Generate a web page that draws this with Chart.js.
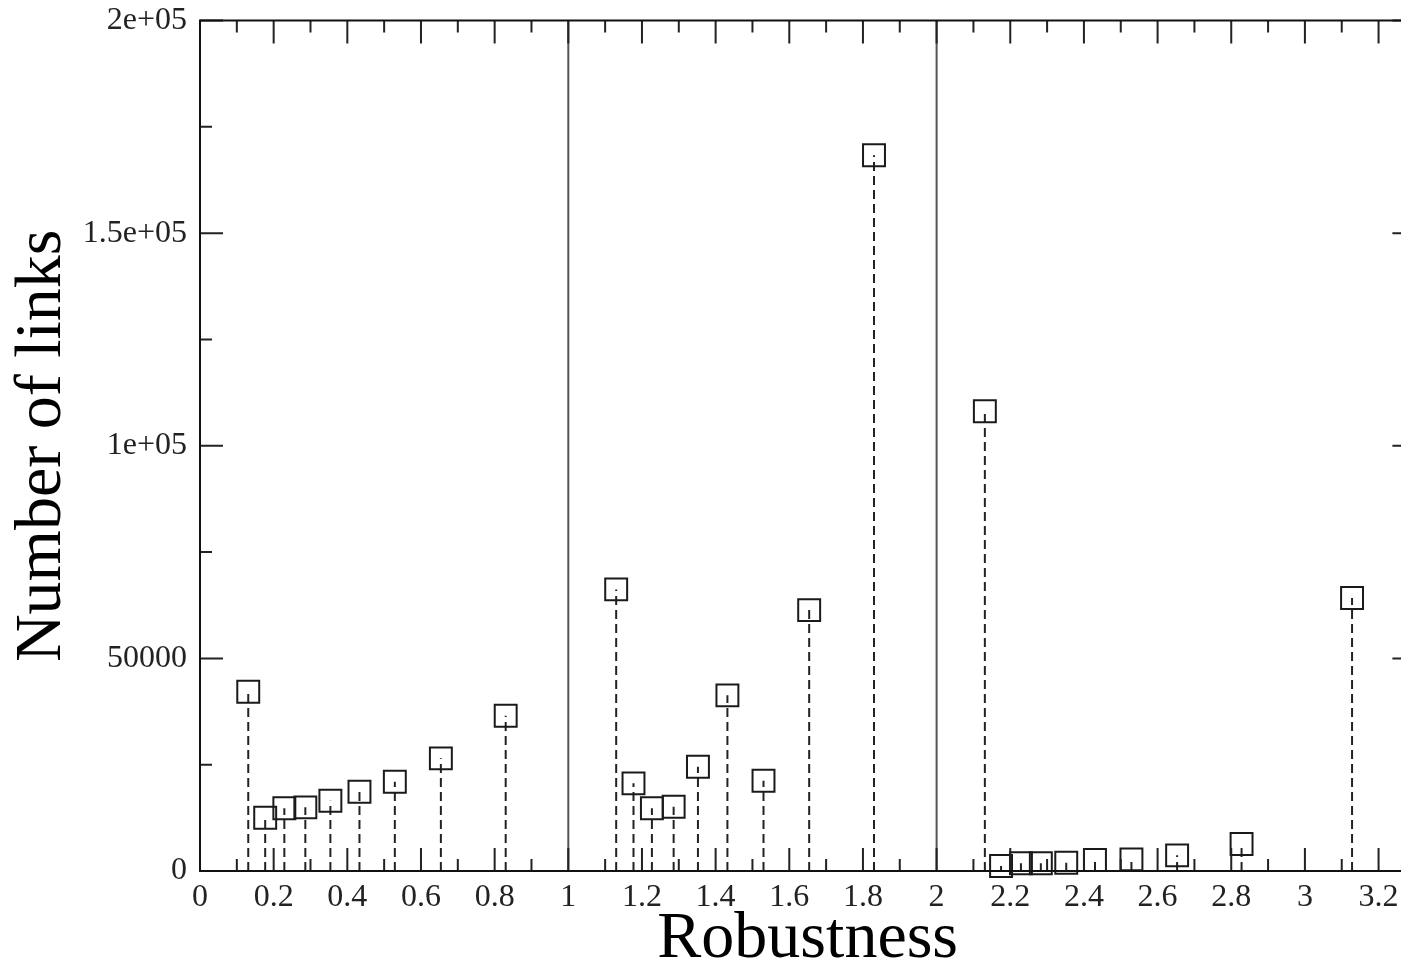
<!DOCTYPE html>
<html>
<head>
<meta charset="utf-8">
<title>Number of links vs Robustness</title>
<script src="https://cdn.jsdelivr.net/npm/chart.js@4.4.1/dist/chart.umd.min.js"></script>
<style>
    html, body { margin: 0; padding: 0; overflow: hidden; background: #fff; }
    #chart-box { position: relative; width: 1420px; height: 970px; }
</style>
</head>
<body>
<div id="chart-box"><canvas id="links-chart"></canvas></div>
<script>
// Values
const robustness = [
    0.131, 0.177, 0.229, 0.286, 0.354, 0.433, 0.529, 0.654, 0.830,
    1.130, 1.177, 1.227, 1.286, 1.352, 1.432, 1.530, 1.654, 1.830,
    2.131, 2.175, 2.229, 2.283, 2.352, 2.430, 2.529, 2.653, 2.828, 3.128
];
const linkCounts = [
    42150, 12530, 14740, 14970, 16530, 18640, 20990, 26490, 36510,
    66220, 20610, 14740, 15120, 24520, 41300, 21230, 61350, 168300,
    108100, 1180, 1810, 1810, 1960, 2590, 2740, 3680, 6350, 64200
];
const dividers = [1, 2];

const xTickLabels = ['0', '0.2', '0.4', '0.6', '0.8', '1', '1.2', '1.4', '1.6', '1.8',
                     '2', '2.2', '2.4', '2.6', '2.8', '3', '3.2'];
const yTickLabels = ['0', '50000', '1e+05', '1.5e+05', '2e+05'];

const serif = "'Liberation Serif', 'DejaVu Serif', serif";

// points for the dashed drop lines, broken up by null gaps
const dropLineData = robustness.flatMap((x, i) => [
    { x: x, y: 0 },
    { x: x, y: linkCounts[i] },
    { x: x, y: null }
]);

const dividerSets = dividers.map(d => ({
    data: [{ x: d, y: 0 }, { x: d, y: 200000 }],
    showLine: true,
    borderColor: '#555',
    borderWidth: 2,
    pointRadius: 0
}));

// xmgrace style frame with inward ticks on all four sides
const frameTicks = {
    id: 'frameTicks',
    afterDatasetsDraw(chart) {
        const { ctx, chartArea, scales } = chart;
        const { left, right, top, bottom } = chartArea;
        ctx.save();
        ctx.strokeStyle = '#222';
        ctx.lineWidth = 2;
        scales.x.ticks.forEach((t, i) => {
            const px = scales.x.getPixelForValue(t.value);
            const len = i % 2 === 0 ? 23 : 12;
            ctx.beginPath();
            ctx.moveTo(px, bottom); ctx.lineTo(px, bottom - len);
            ctx.moveTo(px, top); ctx.lineTo(px, top + len);
            ctx.stroke();
        });
        scales.y.ticks.forEach((t, i) => {
            const py = scales.y.getPixelForValue(t.value);
            const len = i % 2 === 0 ? 23 : 12;
            ctx.beginPath();
            ctx.moveTo(left, py); ctx.lineTo(left + len, py);
            ctx.moveTo(right, py); ctx.lineTo(right - len, py);
            ctx.stroke();
        });
        ctx.strokeStyle = '#111';
        ctx.strokeRect(left, top, right - left, bottom - top);
        ctx.restore();
    }
};

new Chart(document.getElementById('links-chart'), {
    type: 'scatter',
    data: {
        datasets: [
            {
                data: robustness.map((x, i) => ({ x: x, y: linkCounts[i] })),
                pointStyle: 'rect',
                pointRadius: 15.5,
                pointBorderWidth: 2,
                pointBorderColor: '#1a1a1a',
                pointBackgroundColor: 'rgba(0,0,0,0)',
                clip: false
            },
            {
                data: dropLineData,
                showLine: true,
                spanGaps: false,
                borderColor: '#222',
                borderWidth: 2,
                borderDash: [9, 5],
                pointRadius: 0
            },
            ...dividerSets
        ]
    },
    plugins: [frameTicks],
    options: {
        responsive: true,
        maintainAspectRatio: false,
        animation: false,
        events: [],
        layout: {
            autoPadding: false,
            padding: { top: 20.5, right: 4.6, bottom: 0, left: 0 }
        },
        plugins: {
            legend: { display: false },
            tooltip: { enabled: false }
        },
        scales: {
            x: {
                type: 'linear',
                min: 0,
                max: 3.3,
                grid: { display: false, drawTicks: false },
                border: { display: false },
                ticks: {
                    stepSize: 0.1,
                    autoSkip: false,
                    maxRotation: 0,
                    padding: 7,
                    color: '#222',
                    font: { family: serif, size: 32 },
                    callback: (value, index) => index % 2 === 0 ? (xTickLabels[index / 2] || '') : ''
                },
                title: {
                    display: true,
                    text: 'Robustness',
                    color: '#000',
                    font: { family: serif, size: 66, lineHeight: 1 },
                    padding: { top: 0, bottom: -3 }
                },
                afterFit: scale => {
                    scale.height = 99;
                    scale.paddingLeft = 0;
                    scale.paddingRight = 0;
                }
            },
            y: {
                type: 'linear',
                min: 0,
                max: 200000,
                grid: { display: false, drawTicks: false },
                border: { display: false },
                ticks: {
                    stepSize: 25000,
                    autoSkip: false,
                    padding: 13,
                    color: '#222',
                    font: { family: serif, size: 32 },
                    callback: (value, index) => index % 2 === 0 ? (yTickLabels[index / 2] || '') : ''
                },
                title: {
                    display: true,
                    text: 'Number of links',
                    color: '#000',
                    font: { family: serif, size: 66, lineHeight: 1 },
                    padding: { top: 10, bottom: 0 }
                },
                afterFit: scale => {
                    scale.width = 200;
                    scale.paddingTop = 0;
                    scale.paddingBottom = 0;
                }
            }
        }
    }
});
</script>
</body>
</html>
